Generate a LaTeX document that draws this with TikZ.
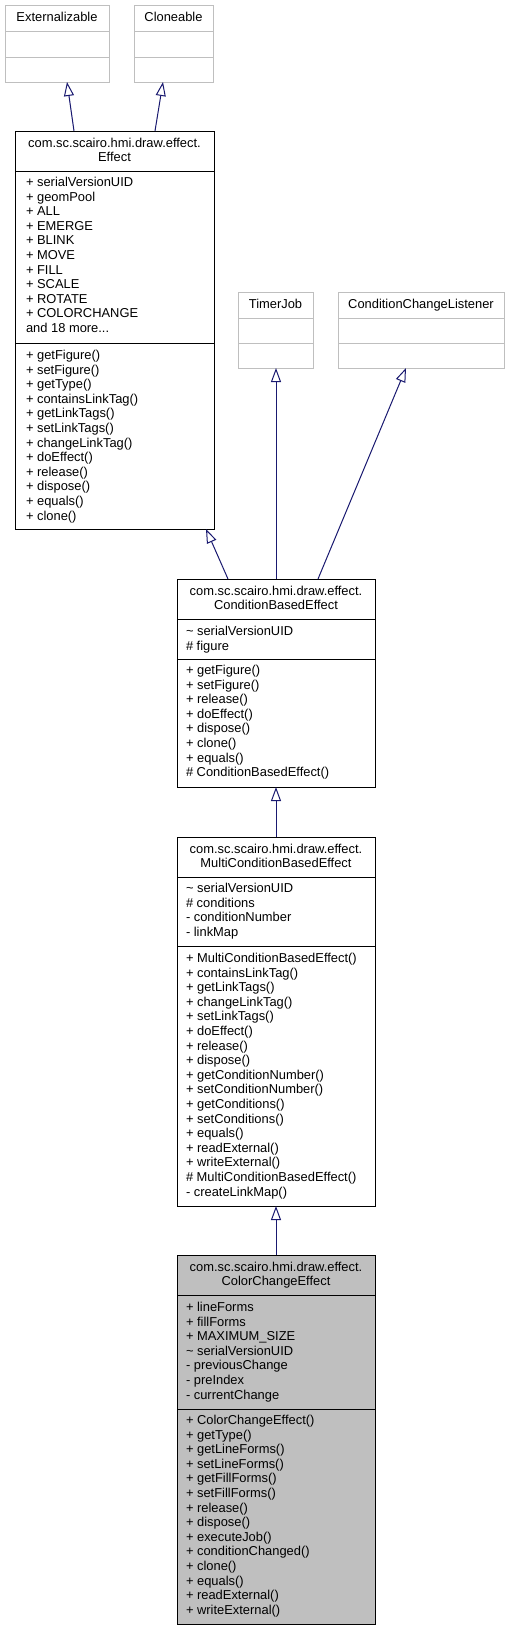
\documentclass[tikz,border=0pt]{standalone}
\usepackage{fontspec}
\setmainfont{Liberation Sans}
\usetikzlibrary{arrows.meta}
\definecolor{edgeblue}{HTML}{191970}
\definecolor{lightbord}{HTML}{BFBFBF}
\definecolor{ccefill}{HTML}{BFBFBF}
\newcommand{\umldots}{...}
\newcommand{\umllines}[4]{%
  \foreach \umlitem [count=\i] in {#4} {
    \node[txt, anchor=base west] (#1-\i) at (#2, {#3 + 4.5 + (\i-1)*14.6}) {\umlitem};
  }}
\begin{document}
\begin{tikzpicture}[x=1pt,y=-1pt,
  txt/.style={inner sep=0pt, outer sep=0pt, font=\fontsize{12.9}{14.6}\selectfont},
  umlbox/.style={draw=black, line width=1pt, inner sep=0pt, outer sep=0pt, anchor=north west},
  graybox/.style={umlbox, draw=lightbord},
  inherit/.style={draw=edgeblue, line width=1pt, -{Triangle[open, length=14pt, width=10pt, fill=white]}}
]
\useasboundingbox[fill=white] (0,0) rectangle (510,1631);

% ---------- Externalizable
\node[graybox, minimum width=104pt, minimum height=77pt] (ext) at (5,5) {};
\draw[lightbord, line width=1pt] (ext.west |- 0,31) -- (ext.east |- 0,31);
\draw[lightbord, line width=1pt] (ext.west |- 0,57) -- (ext.east |- 0,57);
\node[txt, anchor=base] (ext-t) at (57,21.5) {Externalizable};

% ---------- Cloneable
\node[graybox, minimum width=79pt, minimum height=77pt] (clo) at (134,5) {};
\draw[lightbord, line width=1pt] (clo.west |- 0,31) -- (clo.east |- 0,31);
\draw[lightbord, line width=1pt] (clo.west |- 0,57) -- (clo.east |- 0,57);
\node[txt, anchor=base] (clo-t) at (173.5,21.5) {Cloneable};

% ---------- TimerJob
\node[graybox, minimum width=75pt, minimum height=76pt] (tim) at (238,292) {};
\draw[lightbord, line width=1pt] (tim.west |- 0,318) -- (tim.east |- 0,318);
\draw[lightbord, line width=1pt] (tim.west |- 0,343) -- (tim.east |- 0,343);
\node[txt, anchor=base] (tim-t) at (275.5,308.5) {TimerJob};

% ---------- ConditionChangeListener
\node[graybox, minimum width=166pt, minimum height=76pt] (ccl) at (338,292) {};
\draw[lightbord, line width=1pt] (ccl.west |- 0,318) -- (ccl.east |- 0,318);
\draw[lightbord, line width=1pt] (ccl.west |- 0,343) -- (ccl.east |- 0,343);
\node[txt, anchor=base] (ccl-t) at (421,308.5) {ConditionChangeListener};

% ---------- Effect
\node[umlbox, minimum width=199pt, minimum height=398pt] (eff) at (15,131) {};
\draw[line width=1pt] (eff.west |- 0,171) -- (eff.east |- 0,171);
\draw[line width=1pt] (eff.west |- 0,343) -- (eff.east |- 0,343);
\node[txt, anchor=base] (eff-t1) at (114.5,147.5) {com.sc.scairo.hmi.draw.effect.};
\node[txt, anchor=base] (eff-t2) at (114.5,161.5) {Effect};
\umllines{effa}{26}{182}{+ serialVersionUID, + geomPool, + ALL, + EMERGE, + BLINK, + MOVE, + FILL, + SCALE, + ROTATE, + COLORCHANGE, and 18 more\umldots}
\umllines{effm}{26}{355}{+ getFigure(), + setFigure(), + getType(), + containsLinkTag(), + getLinkTags(), + setLinkTags(), + changeLinkTag(), + doEffect(), + release(), + dispose(), + equals(), + clone()}

% ---------- ConditionBasedEffect
\node[umlbox, minimum width=198pt, minimum height=208pt] (cbe) at (177,579) {};
\draw[line width=1pt] (cbe.west |- 0,619) -- (cbe.east |- 0,619);
\draw[line width=1pt] (cbe.west |- 0,659) -- (cbe.east |- 0,659);
\node[txt, anchor=base] (cbe-t1) at (276,595.5) {com.sc.scairo.hmi.draw.effect.};
\node[txt, anchor=base] (cbe-t2) at (276,609.5) {ConditionBasedEffect};
\umllines{cbea}{186}{631}{\textasciitilde{} serialVersionUID, \# figure}
\umllines{cbem}{186}{670}{+ getFigure(), + setFigure(), + release(), + doEffect(), + dispose(), + clone(), + equals(), \# ConditionBasedEffect()}

% ---------- MultiConditionBasedEffect
\node[umlbox, minimum width=198pt, minimum height=369pt] (mcbe) at (177,837) {};
\draw[line width=1pt] (mcbe.west |- 0,877) -- (mcbe.east |- 0,877);
\draw[line width=1pt] (mcbe.west |- 0,946) -- (mcbe.east |- 0,946);
\node[txt, anchor=base] (mcbe-t1) at (276,853.5) {com.sc.scairo.hmi.draw.effect.};
\node[txt, anchor=base] (mcbe-t2) at (276,867.5) {MultiConditionBasedEffect};
\umllines{mcbea}{186}{888}{\textasciitilde{} serialVersionUID, \# conditions, - conditionNumber, - linkMap}
\umllines{mcbem}{186}{958}{+ MultiConditionBasedEffect(), + containsLinkTag(), + getLinkTags(), + changeLinkTag(), + setLinkTags(), + doEffect(), + release(), + dispose(), + getConditionNumber(), + setConditionNumber(), + getConditions(), + setConditions(), + equals(), + readExternal(), + writeExternal(), \# MultiConditionBasedEffect(), - createLinkMap()}

% ---------- ColorChangeEffect
\node[umlbox, fill=ccefill, minimum width=198pt, minimum height=369pt] (cce) at (177,1255) {};
\draw[line width=1pt] (cce.west |- 0,1295) -- (cce.east |- 0,1295);
\draw[line width=1pt] (cce.west |- 0,1409) -- (cce.east |- 0,1409);
\node[txt, anchor=base] (cce-t1) at (276,1271.5) {com.sc.scairo.hmi.draw.effect.};
\node[txt, anchor=base] (cce-t2) at (276,1285.5) {ColorChangeEffect};
\umllines{ccea}{186}{1307}{+ lineForms, + fillForms, + MAXIMUM\_SIZE, \textasciitilde{} serialVersionUID, - previousChange, - preIndex, - currentChange}
\umllines{ccem}{186}{1420}{+ ColorChangeEffect(), + getType(), + getLineForms(), + setLineForms(), + getFillForms(), + setFillForms(), + release(), + dispose(), + executeJob(), + conditionChanged(), + clone(), + equals(), + readExternal(), + writeExternal()}

% ---------- inheritance connectors
\draw[inherit] ([xshift=59pt]eff.north west) -- ([xshift=62pt]ext.south west);
\draw[inherit] ([xshift=140pt]eff.north west) -- ([xshift=29pt]clo.south west);
\draw[inherit] ([xshift=51pt]cbe.north west) -- ([xshift=191pt]eff.south west);
\draw[inherit] ([xshift=99pt]cbe.north west) -- ([xshift=38pt]tim.south west);
\draw[inherit] ([xshift=141pt]cbe.north west) -- ([xshift=68pt]ccl.south west);
\draw[inherit] (mcbe.north) -- (cbe.south);
\draw[inherit] (cce.north) -- (mcbe.south);
\end{tikzpicture}
\end{document}
